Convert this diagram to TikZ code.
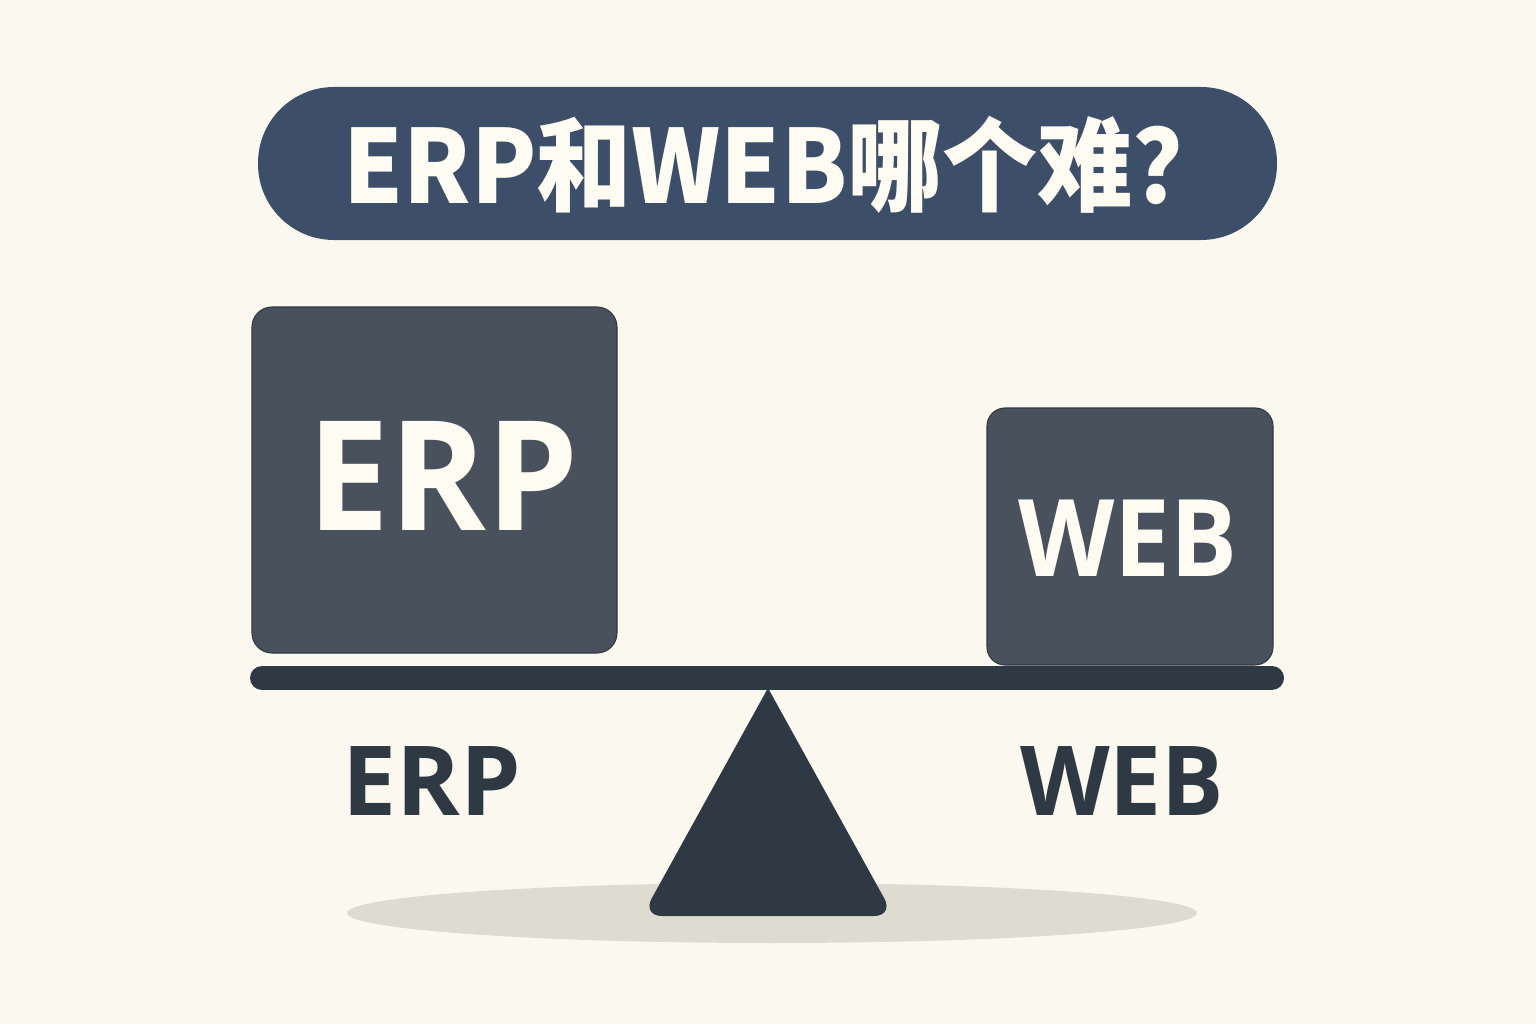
\documentclass[tikz,border=0pt]{standalone}
\usepackage{fontspec}
\newfontfamily\titlefont{Noto Sans CJK SC}
\newfontfamily\latfont{Open Sans}
\definecolor{bgc}{HTML}{FBF9EF}
\definecolor{pillc}{HTML}{3D4F68}
\definecolor{boxc}{HTML}{48515C}
\definecolor{darkc}{HTML}{2F3944}
\definecolor{shadowc}{HTML}{DEDBD0}
\definecolor{txtc}{HTML}{FDFBF2}
\tikzset{
  boxtxt/.style={anchor=base, inner sep=0pt, text=txtc, font=\latfont\bfseries},
  lbltxt/.style={anchor=base, inner sep=0pt, text=darkc, font=\latfont\bfseries\fontsize{55}{60}\selectfont},
  block/.style={draw=darkc, line width=0.6pt, fill=boxc, inner sep=0pt}
}
\begin{document}
\begin{tikzpicture}[x=0.02cm,y=-0.02cm]
\useasboundingbox (0,0) rectangle (1536,1024);
\fill[bgc] (0,0) rectangle (1536,1024);
% title pill
\fill[pillc, rounded corners=1.52cm] (258,87) rectangle (1277,240);
\node[anchor=base, inner sep=0pt, text=txtc, font=\titlefont\bfseries\fontsize{58}{62}\selectfont] (title) at (786,203) {\scalebox{0.935}[1]{ERP和WEB哪个难？}};
% shadow
\fill[shadowc] (772,913) ellipse [x radius=425, y radius=30];
% triangle
\fill[darkc] (768,688) [rounded corners=0.4cm] -- (894,916) -- (642,916) [sharp corners] -- cycle;
\coordinate (apex) at (768,688);
% beam
\draw[darkc, line width=24*0.02cm, line cap=round] (262,678) -- (1272,678);
% blocks
\draw[block, rounded corners=0.4cm] (252,307) rectangle (617,653);
\node[boxtxt, font=\latfont\bfseries\fontsize{87}{90}\selectfont] (erpbox) at (443,530) {\scalebox{0.96}[1]{ERP}};
\draw[block, rounded corners=0.36cm] (987,408) rectangle (1273,665);
\node[boxtxt, font=\latfont\bfseries\fontsize{61}{64}\selectfont] (webbox) at (1128,576) {\scalebox{0.93}[1]{WEB}};
% labels
\node[lbltxt] (erplbl) at (432,815) {ERP};
\node[lbltxt] (weblbl) at (1122,815) {\scalebox{0.96}[1]{WEB}};
\end{tikzpicture}
\end{document}
